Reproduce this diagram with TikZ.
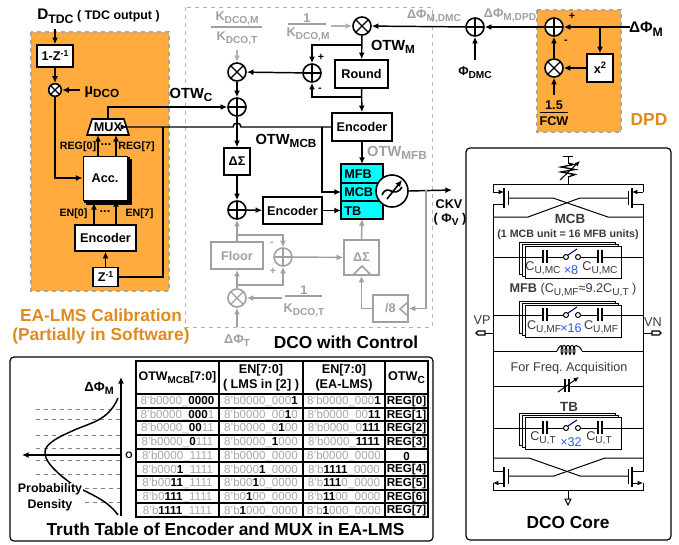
\documentclass[tikz,border=0pt]{standalone}
\usepackage{fontspec}
\setmainfont{Liberation Sans}
\usetikzlibrary{arrows.meta,shapes.geometric,positioning}
\definecolor{calorange}{HTML}{FFAB3D}
\definecolor{caltext}{HTML}{E08A1E}
\definecolor{ctlgray}{HTML}{A0A0A0}
\definecolor{tabgray}{HTML}{A8A8A8}
\definecolor{capblue}{HTML}{2B5BE0}
\definecolor{bankcyan}{HTML}{00FFFF}
\definecolor{coregray}{HTML}{3A3A3A}
\newcommand{\lo}[1]{\raisebox{-.45ex}{\scalebox{.8}{#1}}}
\newcommand{\gy}[1]{{\color{tabgray}\mdseries #1}}
\newcommand{\fsz}[1]{\fontsize{#1}{#1}\selectfont}
\tikzset{
  >={Latex[length=5pt,width=4.5pt]},
  blk/.style={draw,line width=1.2pt,fill=white,font=\fsz{9.5}\bfseries,inner sep=0pt},
  gblk/.style={blk,draw=ctlgray,text=ctlgray},
  lbl/.style={font=\fsz{9.5}\bfseries,inner sep=0pt},
  glbl/.style={lbl,text=ctlgray},
  small/.style={font=\fsz{7.5}\bfseries,inner sep=0pt},
  title/.style={font=\fsz{13}\bfseries,inner sep=0pt},
  caltitle/.style={title,text=caltext},
  wire/.style={line width=1.1pt},
  gwire/.style={line width=1.1pt,ctlgray},
  core/.style={line width=.75pt},
  sumnode/.style={circle,draw,line width=1.2pt,fill=white,minimum size=13.5pt,inner sep=0pt,
    path picture={\draw[line width=1pt] (path picture bounding box.north)--(path picture bounding box.south)
      (path picture bounding box.west)--(path picture bounding box.east);}},
  mulnode/.style={circle,draw,line width=1.2pt,fill=white,minimum size=13.5pt,inner sep=0pt,
    path picture={\draw[line width=1pt] (path picture bounding box.north west)--(path picture bounding box.south east)
      (path picture bounding box.north east)--(path picture bounding box.south west);}},
  capword/.style={font=\fsz{9.5},text=coregray,inner sep=0pt},
  cellword/.style={font=\fsz{8.7}\bfseries,inner sep=0pt}
}
\begin{document}
\begin{tikzpicture}[x=.75pt,y=-.75pt]
\useasboundingbox (0,0) rectangle (679,544);

% panels
\draw[dashed,line width=.8pt,gray!70,fill=calorange] (31,32) rectangle (169,291);
\draw[dashed,line width=.8pt,gray!70,fill=calorange] (537,10) rectangle (621,132);
\draw[dashed,line width=.7pt,gray!60] (185,7) rectangle (432,327);
\draw[line width=.9pt,rounded corners=3pt] (10,357) rectangle (433,541);
\draw[line width=.9pt,rounded corners=3pt] (466,148) rectangle (671,540);

% calibration
\node[lbl] (dtdc) at (98.5,16) {\fsz{11.5}D\lo{TDC}\fsz{9.3} ( TDC output )};
\coordinate (dtdcout) at (55,29);
\node[blk,minimum width=27pt,minimum height=16.5pt] (zdiff) at (55,56) {1-Z\raisebox{.6ex}{\fsz{6.5}-1}};
\node[mulnode,minimum size=9.5pt] (mulmu) at (55,90) {};
\node[lbl,font=\fsz{11}\bfseries] (mu) at (102,92) {µ\lo{DCO}};
\node[trapezium,trapezium angle=63,trapezium stretches=true,draw,line width=1.2pt,fill=white,
  minimum width=31.5pt,minimum height=12pt,inner sep=0pt,font=\fsz{9.5}\bfseries] (mux) at (108,127) {MUX};
\foreach \d in {4,2}
  \draw[line width=.9pt,fill=white] (83+\d,156+\d) rectangle (127+\d,200+\d);
\node[blk,line width=.7pt,minimum width=33pt,minimum height=33pt] (acc) at (105,178) {Acc.};
\node[blk,minimum width=45.75pt,minimum height=19.5pt] (enccal) at (105.5,238) {Encoder};
\node[blk,minimum width=18.75pt,minimum height=14pt] (zinv) at (105.5,277) {Z\raisebox{.6ex}{\fsz{6.5}-1}};
\coordinate (reg0) at (98,135); \coordinate (reg7) at (116,135);
\coordinate (en0) at (94,203); \coordinate (en7) at (116,200);
\node[small,font=\fsz{8}\bfseries] (reg0txt) at (78,147) {REG[0]};
\node[small,font=\fsz{8}\bfseries] (reg7txt) at (136.5,147) {REG[7]};
\node[small,font=\fsz{8}\bfseries] (en0txt) at (73.5,214) {EN[0]};
\node[small,font=\fsz{8}\bfseries] (en7txt) at (139.5,214) {EN[7]};
\node[lbl] (dotsa) at (106,145) {...};
\node[lbl] (dotsb) at (105,212) {...};
\draw[->,wire] (dtdcout) -- (zdiff);
\draw[->,wire] (zdiff) -- (mulmu);
\draw[->,wire] (80,90) -- (mulmu);
\draw[->,wire] (mulmu) |- (acc.west);
\draw[->,wire] (acc.north -| reg0) -- (reg0);
\draw[->,wire] (acc.north -| reg7) -- (reg7);
\draw[->,wire] (enccal.north -| en0) -- (en0);
\draw[->,wire] (enccal.north -| en7) -- (en7);
\draw[->,wire] (zinv) -- (enccal);
\node[caltitle] (calname) at (101,315) {EA-LMS Calibration};
\node[caltitle] (calnote) at (101,336) {(Partially in Software)};

% loop filter side
\node[glbl] (kmnum) at (237,18) {K\lo{DCO,M}};
\node[glbl] (ktden) at (237,38) {K\lo{DCO,T}};
\draw[gwire] (211,27) -- (262,27);
\node[glbl] (onea) at (307,18) {1};
\node[glbl] (kmden) at (308,34) {K\lo{DCO,M}};
\draw[gwire] (288,24) -- (326,24);
\coordinate (onearight) at (331,26);
\node[mulnode] (mulkt) at (237,72) {};
\node[sumnode] (sumc) at (237,107) {};
\node[sumnode] (sumdiff) at (312,73) {};
\node[mulnode] (mulkm) at (362,26) {};
\node[blk,minimum width=39.75pt,minimum height=21pt] (round) at (361.5,74) {Round};
\node[blk,minimum width=45pt,minimum height=21pt] (encfb) at (362,127) {Encoder};
\node[blk,minimum width=19.5pt,minimum height=20.25pt] (dsmcb) at (237,161.5) {ΔΣ};
\node[sumnode] (summcb) at (237,210) {};
\node[blk,minimum width=44.25pt,minimum height=20.25pt] (encmcb) at (292.5,210.5) {Encoder};
\draw[line width=1.2pt,fill=bankcyan] (341,164) rectangle (383,219);
\draw[line width=1.2pt] (341,183) -- (383,183) (341,201) -- (383,201);
\node[lbl,anchor=west] (mfb) at (344,174) {MFB};
\node[lbl,anchor=west] (mcb) at (344,192) {MCB};
\node[lbl,anchor=west] (tb) at (344,211) {TB};
\coordinate (mfbtop) at (362,164); \coordinate (tbleft) at (341,210.5);
\coordinate (mcbleft) at (341,192); \coordinate (tbbot) at (362,219);
\node[circle,draw,line width=1.2pt,fill=white,minimum size=24pt,inner sep=0pt] (osc) at (392,191) {};
\draw[line width=1.2pt,rounded corners=2pt] (382,195) .. controls (388,182) and (394,200) .. (402,187);
\draw[->,line width=1.2pt] (387,199) -- (402,180);
\node[lbl] (otwc) at (191,95) {\fsz{11}OTW\lo{C}};
\node[lbl] (otwm) at (393,47) {\fsz{11}OTW\lo{M}};
\node[lbl] (otwmcb) at (286,141) {\fsz{11}OTW\lo{MCB}};
\node[glbl] (otwmfb) at (397,153) {\fsz{11}OTW\lo{MFB}};
\node[lbl] (ckv) at (449,204) {CKV};
\node[lbl] (phiv) at (450,219) {( Φ\lo{V} )};
\coordinate (ckvend) at (452,190);
\draw[->,gwire,gray!60] (237,50) -- (mulkt);
\draw[->,gwire,gray!60] (onearight) -- (mulkm);
\draw[->,wire] (mulkt) -- (sumc);
\draw[->,wire] (sumdiff) -- (mulkt);
\draw[->,wire] (mulkm) -- (round);
\draw[->,wire] (362,45) -| (sumdiff);
\draw[->,wire] (362,97) -| (sumdiff);
\draw[->,wire] (round) -- (encfb);
\draw[->,wire] (encfb) -- (mfbtop);
\draw[->,wire] (sumc) -- (dsmcb);
\draw[->,wire] (dsmcb) -- (summcb);
\draw[->,wire] (summcb) -- (encmcb);
\draw[->,wire] (encmcb.east |- tbleft) -- (tbleft);
\draw[->,wire] (mux.top side) |- (sumc);
\draw[->,wire] (encfb.west) -- (241,127) arc (0:-180:4) -- (mux.east |- encfb.west) -- (mux.right side);
\draw[->,wire] (322,127) |- (mcbleft);
\draw[wire] (163,127) |- (zinv);
\draw[->,wire] (osc.east) -- (ckvend);

% fine path, gray
\node[gblk,minimum width=39pt,minimum height=20.25pt] (floor) at (237,255.5) {Floor};
\node[sumnode,draw=ctlgray,path picture={\draw[line width=1pt,ctlgray] (path picture bounding box.north)--(path picture bounding box.south) (path picture bounding box.west)--(path picture bounding box.east);}] (sumfl) at (283,257) {};
\node[mulnode,draw=ctlgray,path picture={\draw[line width=1pt,ctlgray] (path picture bounding box.north west)--(path picture bounding box.south east) (path picture bounding box.north east)--(path picture bounding box.south west);}] (multf) at (237,298) {};
\node[gblk,minimum width=26.25pt,minimum height=26.25pt] (dsmfb) at (361.5,257.5) {ΔΣ};
\node[gblk,minimum width=26.25pt,minimum height=20.25pt] (dive) at (390.5,308.5) {/8};
\node[glbl] (onet) at (304,290) {1};
\node[glbl] (ktb) at (304,310) {K\lo{DCO,T}};
\draw[gwire] (285,296) -- (322,296);
\coordinate (ktbright) at (282,298);
\node[glbl] (dphit) at (237,341) {ΔΦ\lo{T}};
\draw[->,gwire] (237,327) -- (multf);
\draw[->,gwire] (ktbright) -- (multf);
\draw[->,gwire] (multf) -- (floor);
\draw[->,gwire] (floor) -- (summcb);
\draw[->,gwire] (237,235) -| (sumfl);
\draw[->,gwire] (237,285) -| (sumfl);
\draw[->,gwire] (sumfl) -- (dsmfb);
\draw[->,gwire] (dsmfb.north) -- (tbbot);
\draw[->,gwire] (dive.west) -| (dsmfb.south);
\draw[->,gwire] (426,190) |- (dive.east);
\draw[gwire] (353,275) -- (362,266) -- (371,275);
\draw[gwire] (408,302) -- (400,309) -- (408,316);
\node[small,text=ctlgray,font=\fsz{8}\bfseries] (minusfl) at (272,244) {-};
\node[small,text=ctlgray,font=\fsz{8}\bfseries] (plusfl) at (273,271) {+};
\node[small,font=\fsz{8}\bfseries] (plusdiff) at (321,57) {+};
\node[small,font=\fsz{8}\bfseries] (minusdiff) at (320,90) {-};
\node[title] (dconame) at (346,342) {DCO with Control};

% phase path
\node[sumnode] (sumdmc) at (475,27) {};
\node[sumnode] (sumdpd) at (554,27) {};
\node[mulnode] (muldpd) at (554,68) {};
\node[blk,minimum width=19.5pt,minimum height=21pt] (square) at (600,68) {x\raisebox{.7ex}{\fsz{7}2}};
\node[lbl,font=\fsz{11.5}\bfseries] (dphim) at (646,29) {ΔΦ\lo{M}};
\node[glbl] (dphidmc) at (434,16) {ΔΦ\lo{M,DMC}};
\node[glbl] (dphidpd) at (510,15) {ΔΦ\lo{M,DPD}};
\node[lbl] (phidmc) at (475,73) {Φ\lo{DMC}};
\node[lbl] (onefive) at (554,105) {1.5};
\node[lbl] (fcw) at (554,121) {FCW};
\draw[line width=1.2pt] (540,112.5) -- (568,112.5);
\node[caltitle] (dpdname) at (649,120) {DPD};
\node[small,font=\fsz{8}\bfseries] (plusdpd) at (572,16) {+};
\node[small,font=\fsz{8}\bfseries] (minusdpd) at (566,42) {-};
\draw[->,wire] (630,27) -- (sumdpd);
\draw[->,wire] (600,27) -- (square);
\draw[->,wire] (square) -- (muldpd);
\draw[->,wire] (muldpd) -- (sumdpd);
\draw[->,wire] (554,95) -- (muldpd);
\draw[->,wire] (sumdpd) -- (sumdmc);
\draw[->,wire] (sumdmc) -- (mulkm);
\draw[->,wire] (475,60) -- (sumdmc);

% truth table
\node[lbl,font=\fsz{9.3}\bfseries] (headone) at (177.5,377.5) {OTW\lo{MCB}[7:0]};
\node[lbl,font=\fsz{9.5}\bfseries,align=center] (headtwo) at (261,377.5) {EN[7:0]\\[2pt]( LMS in [2] )};
\node[lbl,font=\fsz{9.5}\bfseries,align=center] (headthree) at (344,377.5) {EN[7:0]\\[2pt](EA-LMS)};
\node[lbl,font=\fsz{9.5}\bfseries] (headfour) at (406.5,377.5) {OTW\lo{C}};
\foreach \n/\a/\b/\c/\d in {
  0/{\gy{8'b0000\_}0000}/{\gy{8'b0000\_000}1}/{\gy{8'b0000\_000}1}/REG[0],
  1/{\gy{8'b0000\_}000\gy{1}}/{\gy{8'b0000\_00}1\gy{0}}/{\gy{8'b0000\_00}11}/REG[1],
  2/{\gy{8'b0000\_}00\gy{11}}/{\gy{8'b0000\_0}1\gy{00}}/{\gy{8'b0000\_0}111}/REG[2],
  3/{\gy{8'b0000\_}0\gy{111}}/{\gy{8'b0000\_}1\gy{000}}/{\gy{8'b0000\_}1111}/REG[3],
  4/{\gy{8'b0000\_1111}}/{\gy{8'b0000\_0000}}/{\gy{8'b0000\_0000}}/0,
  5/{\gy{8'b000}1\gy{\_1111}}/{\gy{8'b000}1\gy{\_0000}}/{\gy{8'b}1111\gy{\_0000}}/REG[4],
  6/{\gy{8'b00}11\gy{\_1111}}/{\gy{8'b00}1\gy{0\_0000}}/{\gy{8'b}111\gy{0\_0000}}/REG[5],
  7/{\gy{8'b0}111\gy{\_1111}}/{\gy{8'b0}1\gy{00\_0000}}/{\gy{8'b}11\gy{00\_0000}}/REG[6],
  8/{\gy{8'b}1111\gy{\_1111}}/{\gy{8'b}1\gy{000\_0000}}/{\gy{8'b}1\gy{000\_0000}}/REG[7]}{
  \node[cellword] (cola\n) at (177.5,401.6+13.67*\n) {\a};
  \node[cellword] (colb\n) at (261,401.6+13.67*\n) {\b};
  \node[cellword] (colc\n) at (344,401.6+13.67*\n) {\c};
  \node[cellword] (cold\n) at (406.5,401.6+13.67*\n) {\d};
}
\draw[line width=1.5pt] (136,361) rectangle (428,517);
\foreach \n in {0,...,8}
  \draw[line width=1.5pt] (136,394+13.67*\n) -- (428,394+13.67*\n);
\foreach \x in {219,303,385}
  \draw[line width=1.5pt] (\x,361) -- (\x,517);
\node[title] (tabname) at (225.5,529) {Truth Table of Encoder and MUX in EA-LMS};

% density plot
\foreach \y/\x in {409/36,419/36,435/36,448/36,460/36,474/36,488/85,502/85}
  \draw[dashed,line width=.5pt,gray] (\x,\y) -- (121,\y);
\coordinate (origin) at (121,455);
\coordinate (axistop) at (121,377);
\coordinate (axisbot) at (121,516);
\coordinate (axisleft) at (22,455);
\draw[->,line width=1.2pt] (origin) -- (axisleft);
\draw[->,line width=1.1pt] (axisbot) -- (axistop);
\draw[line width=1.1pt] (118,398) .. controls (108,422) and (88,423) .. (70,432)
  .. controls (52,440) and (44,446) .. (45,454) .. controls (46,463) and (58,474) .. (72,484)
  .. controls (86,493) and (106,498) .. (118,515);
\node[small,font=\fsz{7}\bfseries] (origintxt) at (129,455) {O};
\node[lbl,font=\fsz{10}\bfseries] (dphiaxis) at (99,388) {ΔΦ\lo{M}};
\node[lbl,font=\fsz{9.3}\bfseries,fill=white,inner xsep=1pt] (probtxt) at (50,489) {Probability};
\node[lbl,font=\fsz{9.3}\bfseries,fill=white,inner xsep=1pt] (denstxt) at (50,505) {Density};

% dco core
\draw[core] (493,192) -- (493,184) -- (643,184) -- (643,192);
\draw[core,-{Latex[length=4pt,width=3.5pt]}] (493,192) -- (504,192);
\draw[core,-{Latex[length=4pt,width=3.5pt]}] (643,192) -- (632,192);
\draw[line width=1.1pt] (504,188) -- (504,208) (632,188) -- (632,208);
\draw[core] (508,191) -- (508,205) (628,191) -- (628,205);
\draw[core] (504,204) -- (493,204) -- (493,471) -- (504,471);
\draw[core] (632,204) -- (643,204) -- (643,471) -- (632,471);
\draw[core] (508,198) -- (553,198) -- (608,217) -- (643,217);
\draw[core] (628,198) -- (580,198) -- (528,217) -- (493,217);
% tail device
\draw[core] (568,184) -- (568,177) (568,163) -- (568,156) (563,156) -- (573,156);
\draw[line width=1pt] (568,163) -- (574,164.5) -- (561,167) -- (575,169.5) -- (561,172) -- (575,174.5) -- (568,177);
\draw[core,-{Latex[length=4pt,width=3.5pt]}] (560,180) -- (580,161);
\node[capword,font=\fsz{10}\bfseries] (mcbname) at (570,219) {MCB};
\node[capword,font=\fsz{8}\bfseries] (mcbnote) at (568,235) {(1 MCB unit = 16 MFB units)};
\node[capword] (mfbnote) at (573,290) {\textbf{MFB} (C\lo{U,MF}≈9.2C\lo{U,T} )};
\node[capword] (freqtxt) at (569,368) {For Freq.\ Acquisition};
\node[capword,font=\fsz{10}\bfseries] (tbname) at (569,407) {TB};
% cap banks
\foreach \top/\wy in {246/257,305/315,417/428}{
  \foreach \d in {6,3,0}
    \draw[core,fill=white] (525-\d,\top-\d/1.5) rectangle (621-\d,\top+32-\d/1.5);
  \draw[core] (493,\wy) -- (543,\wy) (547,\wy) -- (563.5,\wy) (580.5,\wy) -- (598,\wy) (602,\wy) -- (643,\wy);
  \draw[line width=.9pt] (543,\wy-7) -- (543,\wy+6) (547,\wy-7) -- (547,\wy+6)
    (598,\wy-7) -- (598,\wy+6) (602,\wy-7) -- (602,\wy+6);
  \draw[core,fill=white] (566,\wy) circle (2.5) (578,\wy) circle (2.5);
  \draw[core,blue!50!black] (568,\wy-2) -- (577,\wy-8);
}
\node[capword] (mcleft) at (543,268) {C\lo{U,MC}};
\node[capword,text=capblue] (mccount) at (571,270) {×8};
\node[capword] (mcright) at (600,268) {C\lo{U,MC}};
\node[capword] (mfleft) at (544,327) {C\lo{U,MF}};
\node[capword,text=capblue] (mfcount) at (571,328) {×16};
\node[capword] (mfright) at (601,327) {C\lo{U,MF}};
\node[capword] (tleft) at (543,438) {C\lo{U,T}};
\node[capword,text=capblue] (tcount) at (571,442) {×32};
\node[capword] (tright) at (599,438) {C\lo{U,T}};
% ports
\node[capword] (vptxt) at (482,320) {VP};
\node[capword] (vntxt) at (653,322) {VN};
\draw[core] (493,333) -- (485,333) (643,333) -- (652,333);
\draw[line width=.9pt,fill=white] (485,331) -- (478,331) -- (476,333) -- (478,335) -- (485,335) -- cycle;
\draw[line width=.9pt,fill=white] (652,331) -- (659,331) -- (661,333) -- (659,335) -- (652,335) -- cycle;
% inductor and varactor
\draw[core] (493,351) -- (557,351) (582,351) -- (643,351);
\draw[core] (557,351) .. controls (560,344) and (563,344) .. (563,350)
  .. controls (563,356) and (561,356) .. (561,350) .. controls (561,344) and (567,344) .. (567,350)
  .. controls (567,356) and (565,356) .. (565,350) .. controls (565,344) and (571,344) .. (571,350)
  .. controls (571,356) and (569,356) .. (569,350) .. controls (569,344) and (575,344) .. (575,350)
  .. controls (575,356) and (573,356) .. (573,350) .. controls (573,344) and (579,344) .. (582,351);
\draw[core] (493,386) -- (565,386) (569,386) -- (643,386);
\draw[line width=.9pt] (565,379) -- (565,392) (569,379) -- (569,392);
\draw[core,-{Latex[length=4pt,width=3.5pt]}] (558,392) -- (579,377);
% cross pair below
\draw[core] (493,458) -- (529,458) -- (580,476) -- (628,476);
\draw[core] (643,458) -- (605,458) -- (554,476) -- (508,476);
\draw[line width=1.1pt] (504,467) -- (504,487) (632,467) -- (632,487);
\draw[core] (508,469) -- (508,484) (628,469) -- (628,484);
\draw[core,-{Latex[length=4pt,width=3.5pt]}] (504,483) -- (493,483);
\draw[core,-{Latex[length=4pt,width=3.5pt]}] (632,483) -- (643,483);
\draw[core] (493,483) -- (493,490) -- (643,490) -- (643,483);
\draw[core] (568,490) -- (568,499);
\draw[core] (565,499) -- (571,499) -- (568,505) -- cycle;
\node[title] (corename) at (568,523) {DCO Core};
\end{tikzpicture}
\end{document}
